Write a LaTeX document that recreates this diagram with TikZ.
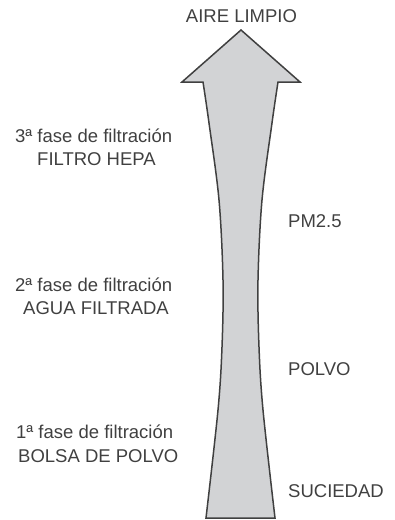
\documentclass[tikz,border=0pt]{standalone}
\usepackage{fontspec}
\setmainfont{Liberation Sans}
\definecolor{txtgray}{RGB}{64,64,64}
\definecolor{arrowfill}{RGB}{210,211,213}
\definecolor{arrowline}{RGB}{64,64,64}
\tikzset{
  lbl/.style={inner sep=0pt, anchor=base west, text=txtgray, font=\fontsize{18.5}{22}\selectfont},
  bigarrow/.style={draw=arrowline, fill=arrowfill, line width=1.5pt, line join=miter}
}
\begin{document}
\begin{tikzpicture}[x=1pt,y=-1pt]
\useasboundingbox (0,0) rectangle (395,520);
\draw[bigarrow] (241,30) -- (300,82) -- (278,82)
  -- plot[smooth, tension=0.55] coordinates {(278,82) (272,123) (262,200) (258,280) (259,347) (263,410) (275,518)}
  -- (206,518)
  -- plot[smooth, tension=0.55] coordinates {(206,518) (218,410) (222,347) (223,280) (219,200) (209,123) (203,82)}
  -- (182,82) -- cycle;
\node[lbl, anchor=base] (aire) at (241.5,22) {AIRE LIMPIO};
\node[lbl] (f3) at (15,142) {3ª fase de filtración};
\node[lbl] (hepa) at (37,165) {FILTRO HEPA};
\node[lbl] (f2) at (15,291) {2ª fase de filtración};
\node[lbl] (agua) at (23,314) {AGUA FILTRADA};
\node[lbl] (f1) at (16,438) {1ª fase de filtración};
\node[lbl] (bolsa) at (18,462) {BOLSA DE POLVO};
\node[lbl] (pm) at (288,227) {PM2.5};
\node[lbl] (polvo) at (288,375) {POLVO};
\node[lbl] (suc) at (288,497) {SUCIEDAD};
\end{tikzpicture}
\end{document}
